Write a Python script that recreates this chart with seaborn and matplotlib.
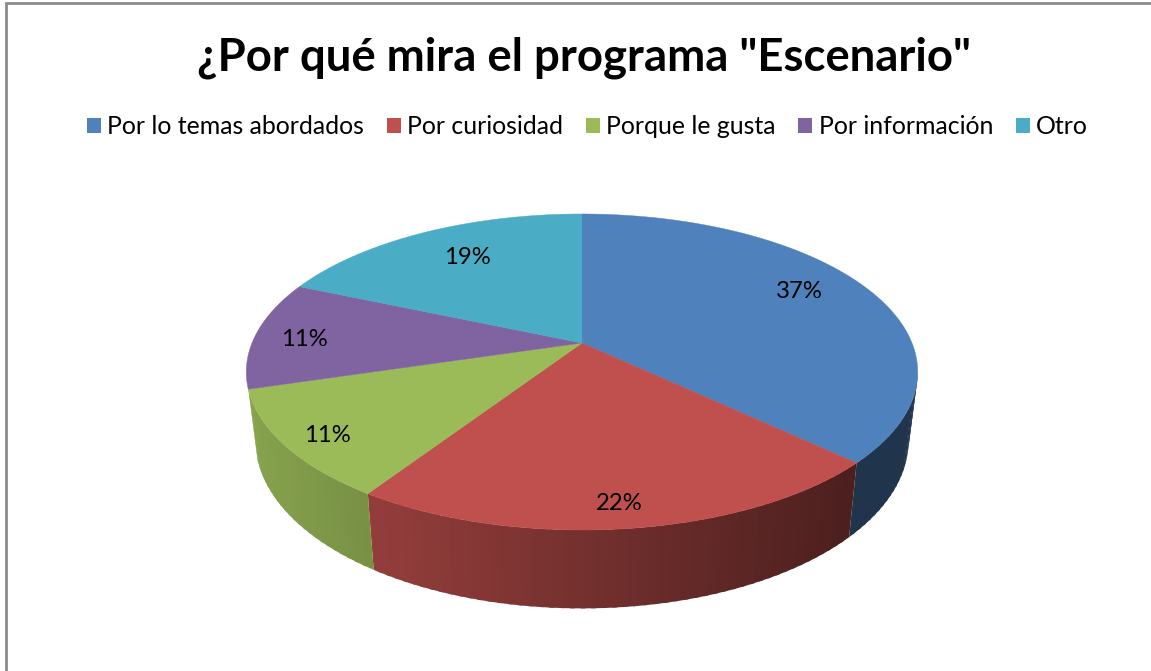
import numpy as np
import matplotlib
matplotlib.use("Agg")
import matplotlib.pyplot as plt
from matplotlib.patches import Patch
import seaborn as sns

# ---- data ----
categories = ["Por lo temas abordados", "Por curiosidad", "Porque le gusta", "Por información", "Otro"]
shares = [37.04, 22.22, 11.11, 11.11, 18.52]
colors = ["#4F81BD", "#C0504D", "#9BBB59", "#8064A2", "#4BACC6"]
title = '¿Por qué mira el programa "Escenario"'

# ---- layout (pixels) ----
W, H = 1151, 671
CX, CY = 582, 343
TILT = 0.1835
TOP_A, TOP_D = 152.7, 330
BOT_Y, BOT_A, BOT_D = 410, 162, 321
label_pos = [(799, 292), (619, 504), (327, 435), (304, 340), (467, 258)]

sns.set_theme(style="white", palette=sns.color_palette(colors))
plt.rcParams["font.family"] = ["Lato", "DejaVu Sans"]

fig = plt.figure(figsize=(W / 100, H / 100), dpi=100, facecolor="white")
ax = fig.add_axes([0, 0, 1, 1])
ax.set_xlim(0, W)
ax.set_ylim(H, 0)
ax.axis("off")


def top_face(theta, r=1.0):
    u, v = np.sin(theta) * r, np.cos(theta) * r
    k = 1 + TILT * v
    return CX + TOP_D * u / k, CY - TOP_A * v / k


def bottom_face(theta):
    u, v = np.sin(theta), np.cos(theta)
    k = 1 + TILT * v
    return CX + BOT_D * u / k, BOT_Y - BOT_A * v / k


def shade(hex_color, x, idx):
    rgb = np.array(matplotlib.colors.to_rgb(hex_color))
    if idx == 0:
        f = 0.40
    else:
        f = np.interp(x, [255, 373, 850], [0.87, 0.77, 0.39])
    return tuple(rgb * f)


fractions = np.array(shares) / sum(shares)
edges = np.concatenate([[0], np.cumsum(fractions)]) * 2 * np.pi
vis_lo, vis_hi = np.radians(100.6), edges[3]

# side wall
for i, col in enumerate(colors):
    a0, a1 = max(edges[i], vis_lo), min(edges[i + 1], vis_hi)
    if a1 <= a0:
        continue
    steps = np.linspace(a0, a1, max(int(np.degrees(a1 - a0) / 1.5), 2))
    for s0, s1 in zip(steps[:-1], steps[1:]):
        # each strip overlaps the next one so no seam shows between them
        tx0, ty0 = top_face(s0)
        tx1, ty1 = top_face(s1 + (0.012 if s1 < a1 else 0))
        bx0, by0 = bottom_face(s0)
        bx1, by1 = bottom_face(s1 + (0.012 if s1 < a1 else 0))
        c = shade(col, (bx0 + bx1) / 2, i)
        ax.fill([tx0, tx1, bx1, bx0], [ty0, ty1, by1, by0], facecolor=c, edgecolor="none",
                lw=0, zorder=2)

# top face
for i, col in enumerate(colors):
    th = np.linspace(edges[i], edges[i + 1], 200)
    x, y = top_face(th)
    ax.fill(np.r_[CX, x], np.r_[CY, y], color=col, lw=0.3, zorder=3)

# percent labels
for share, (lx, ly) in zip(fractions, label_pos):
    ax.text(lx, ly, f"{share * 100:.0f}%", ha="center", va="center", fontsize=17.2,
            color="black", zorder=4)

# frame (only left and top are visible in the crop)
ax.plot([6, 6, W], [H, 3, 3], color="#8c8c8c", lw=2, zorder=1, solid_joinstyle="miter")

ax.text(584, 58, title, ha="center", va="center", fontsize=32.8, fontweight="bold", color="black")

handles = [Patch(facecolor=c, edgecolor="none", label=n) for c, n in zip(colors, categories)]
leg = ax.legend(handles=handles, ncol=5, loc="center", bbox_to_anchor=(587.5 / W, 1 - 126.5 / H),
                bbox_transform=fig.transFigure, frameon=False, fontsize=17.9,
                handlelength=0.57, handleheight=0.57, handletextpad=0.26, columnspacing=0.9,
                labelcolor="black", borderpad=0, borderaxespad=0)

fig.savefig("out.png", dpi=100)
